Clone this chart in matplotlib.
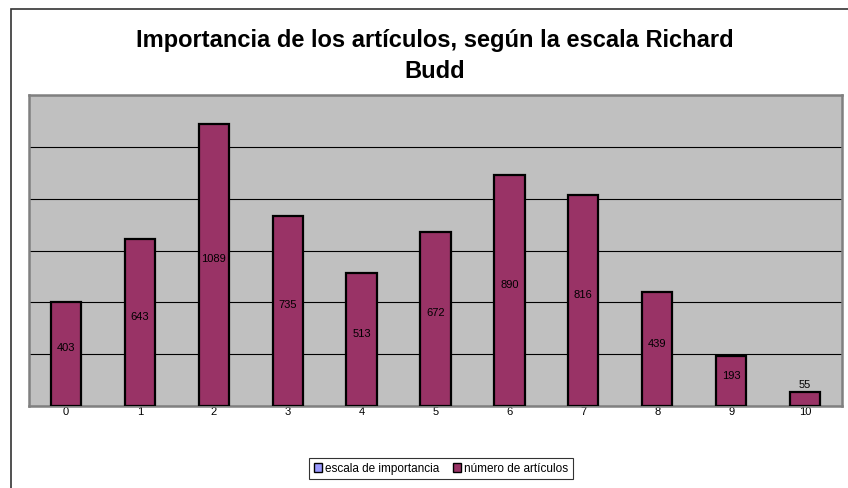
import matplotlib
matplotlib.use('Agg')
from matplotlib import pyplot as plt
from matplotlib.patches import Rectangle, Patch
import numpy as np

plt.rcParams['font.family'] = ['Liberation Sans', 'DejaVu Sans']

# data
escala = ['0', '1', '2', '3', '4', '5', '6', '7', '8', '9', '10']
articulos = [403, 643, 1089, 735, 513, 672, 890, 816, 439, 193, 55]

fig = plt.figure(figsize=(8.48, 4.89), dpi=100)

# chart area border (Excel style)
fig.patches.append(Rectangle((11/848, -0.1), 1.2, 1 - 10/489 + 0.1,
                             transform=fig.transFigure, fill=False,
                             edgecolor='#333333', linewidth=1.2))

ax = fig.add_axes([29/848, 1 - 407/489, (842 - 29)/848, (407 - 96)/489])
ax.set_facecolor('#C0C0C0')
x = np.arange(len(escala))
bars = ax.bar(x, articulos, width=0.41, color='#993366', edgecolor='black',
              linewidth=1.6, zorder=3)

for b, v in zip(bars, articulos):
    if v > 100:
        ax.text(b.get_x() + b.get_width()/2, v/2 + 25, str(v), ha='center',
                va='center', fontsize=8, zorder=4)
    else:
        ax.text(b.get_x() + b.get_width()/2, v + 12, str(v), ha='center',
                va='bottom', fontsize=8, zorder=4)

ax.set_xlim(-0.5, len(escala) - 0.5)
ax.set_ylim(0, 1200)
ax.set_yticks(np.arange(0, 1201, 200))
ax.set_yticklabels([])
ax.tick_params(axis='y', length=0)
ax.set_xticks(x)
ax.set_xticklabels(escala, fontsize=8)
ax.tick_params(axis='x', length=0, pad=0)
ax.grid(axis='y', color='black', linewidth=0.8, zorder=1)
for s in ax.spines.values():
    s.set_color('#808080')
    s.set_linewidth(1.8)

fig.text(435/848, 1 - 56/489, 'Importancia de los artículos, según la escala Richard\nBudd',
         ha='center', va='center', fontsize=17, fontweight='bold', linespacing=1.45)

handles = [Patch(facecolor='#9999FF', edgecolor='black', linewidth=1),
           Patch(facecolor='#993366', edgecolor='black', linewidth=1)]
leg = fig.legend(handles, ['escala de importancia', 'número de artículos'],
                 loc='center', bbox_to_anchor=(441/848, 1 - 469.5/489), ncol=2,
                 fontsize=8.5, frameon=True, fancybox=False, handlelength=0.7,
                 handleheight=0.7, handletextpad=0.2, columnspacing=1.2,
                 borderpad=0.4)
leg.get_frame().set_edgecolor('black')
leg.get_frame().set_linewidth(0.8)

fig.savefig('out.png', dpi=100)
